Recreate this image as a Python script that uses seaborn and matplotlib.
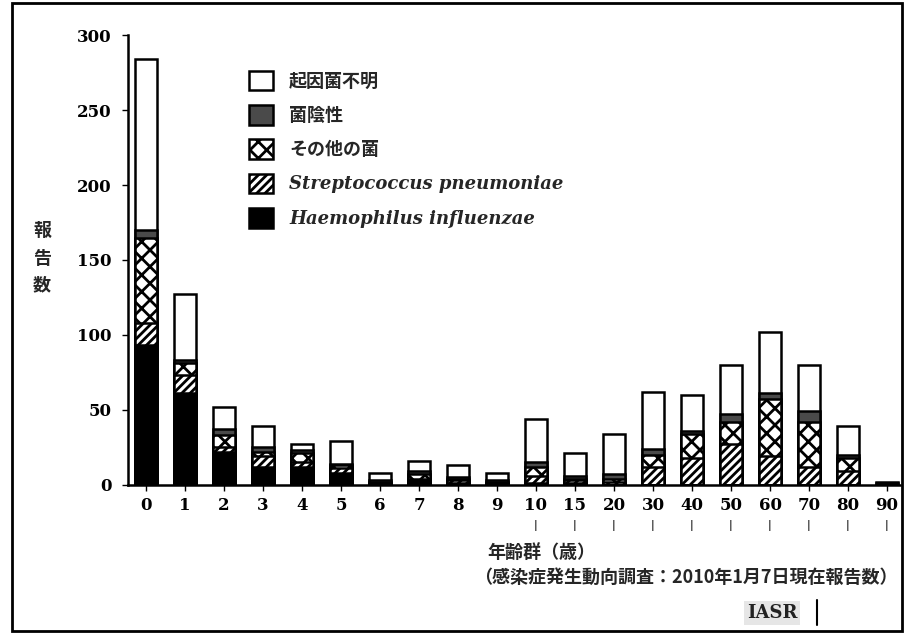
import pandas as pd
import matplotlib
matplotlib.use("Agg")
import matplotlib.pyplot as plt
from matplotlib.patches import Patch, Rectangle
import seaborn as sns

# data (reports by age group)
ages = ["0", "1", "2", "3", "4", "5", "6", "7", "8", "9",
        "10", "15", "20", "30", "40", "50", "60", "70", "80", "90"]
hi = [93, 61, 22, 12, 12, 8, 1, 3, 1, 1, 1, 1, 0, 0, 0, 0, 0, 0, 0, 0]
sp = [15, 12, 3, 7, 3, 3, 0, 1, 2, 0, 5, 2, 2, 12, 18, 27, 19, 12, 9, 0]
other = [57, 8, 8, 3, 6, 2, 1, 3, 1, 1, 6, 1, 2, 8, 16, 15, 38, 30, 9, 0]
neg = [5, 2, 4, 3, 2, 1, 1, 2, 1, 1, 3, 2, 3, 4, 2, 5, 4, 7, 2, 1]
unknown = [114, 44, 15, 14, 4, 15, 5, 7, 8, 5, 29, 15, 27, 38, 24, 33, 41, 31, 19, 1]
range_ages = ["10", "15", "20", "30", "40", "50", "60", "70", "80", "90"]

labels = ["起因菌不明", "菌陰性", "その他の菌",
          "Streptococcus pneumoniae", "Haemophilus influenzae"]

sns.set_theme(style="white")
plt.rcParams["font.family"] = ["Noto Sans CJK JP", "DejaVu Sans"]
plt.rcParams["hatch.linewidth"] = 2.0

df = pd.DataFrame({"age": ages, "hi": hi, "sp": sp, "other": other,
                   "neg": neg, "unknown": unknown})
df["c1"] = df["hi"]
df["c2"] = df["c1"] + df["sp"]
df["c3"] = df["c2"] + df["other"]
df["c4"] = df["c3"] + df["neg"]
df["c5"] = df["c4"] + df["unknown"]

fig = plt.figure(figsize=(9.05, 6.4), dpi=100)
ax = fig.add_axes([0.1414, 0.2422, 0.853, 0.7031])

# styles for each layer, top of stack first
layers = [
    ("c5", dict(color="white")),
    ("c4", dict(color="#4a4a4a")),
    ("c3", dict(color="white", hatch="xx")),
    ("c2", dict(color="white", hatch="////")),
    ("c1", dict(color="black")),
]
for col, st in layers:
    sns.barplot(data=df, x="age", y=col, order=ages, width=0.55,
                edgecolor="black", linewidth=1.8, errorbar=None,
                saturation=1, ax=ax, **st)

ax.set_xlim(-0.46, 19.33)
ax.set_ylim(0, 300)
ax.set_yticks([0, 50, 100, 150, 200, 250, 300])
ax.set_xlabel("")
ax.set_ylabel("")
sns.despine(ax=ax)
for side in ["left", "bottom"]:
    ax.spines[side].set_linewidth(1.8)
    ax.spines[side].set_color("black")
ax.tick_params(axis="both", direction="out", length=4, width=1,
               color="black", left=True, bottom=True)
ax.tick_params(axis="x", pad=5)
ax.tick_params(axis="y", pad=8)
for t in ax.get_xticklabels() + ax.get_yticklabels():
    t.set_family("DejaVu Serif")
    t.set_fontweight("bold")
    t.set_fontsize(12)
    t.set_color("black")

# little range marks under 10..90
for a in range_ages:
    ax.text(ages.index(a), -0.09, "|", transform=ax.get_xaxis_transform(),
            ha="center", va="center", fontsize=7, fontweight="bold",
            family="DejaVu Sans")

# legend (reverse stack order)
handles = [
    Patch(facecolor="white", edgecolor="black", linewidth=1.8),
    Patch(facecolor="#4a4a4a", edgecolor="black", linewidth=1.8),
    Patch(facecolor="white", edgecolor="black", hatch="xx", linewidth=1.8),
    Patch(facecolor="white", edgecolor="black", hatch="////", linewidth=1.8),
    Patch(facecolor="black", edgecolor="black", linewidth=1.8),
]
leg = ax.legend(handles, labels, loc="upper left", bbox_to_anchor=(0.148, 0.937),
                frameon=False, fontsize=13, handlelength=1.3, handleheight=1.3,
                labelspacing=0.8, handletextpad=0.9, borderaxespad=0)
for i, t in enumerate(leg.get_texts()):
    t.set_fontweight("bold")
    if i >= 3:
        t.set_family("DejaVu Serif")
        t.set_style("italic")

# texts around the axes
fig.text(42 / 905, 1 - 258 / 640, "報\n告\n数", ha="center", va="center",
         fontsize=13, fontweight="bold", linespacing=1.55)
fig.text(541 / 905, 1 - 552 / 640, "年齢群（歳）", ha="center", va="center",
         fontsize=13, fontweight="bold")
fig.text(898 / 905, 1 - 577 / 640,
         "（感染症発生動向調査：2010年1月7日現在報告数）",
         ha="right", va="center", fontsize=13, fontweight="bold")
fig.text(772 / 905, 1 - 613 / 640, "IASR", ha="center", va="center",
         fontsize=13, fontweight="bold", family="DejaVu Serif", color="#222222",
         bbox=dict(boxstyle="square,pad=0.15", fc="#e6e6e6", ec="none"))
fig.add_artist(plt.Line2D([817 / 905, 817 / 905], [1 - 600 / 640, 1 - 625 / 640],
                          color="black", lw=1.5))

# outer frame of the figure
fig.add_artist(Rectangle((12 / 905, 1 - 631 / 640), 890 / 905, 628 / 640,
                         transform=fig.transFigure, fill=False,
                         edgecolor="black", linewidth=2))

fig.savefig("out.png", dpi=100)
